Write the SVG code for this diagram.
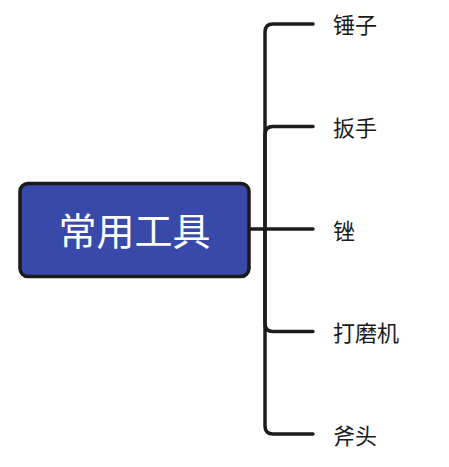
<svg xmlns="http://www.w3.org/2000/svg" width="449" height="467" viewBox="0 0 449 467">
<style>
.c{fill:none;stroke:#1c1c1c;stroke-width:3.5;stroke-linecap:round;stroke-linejoin:round}
.l{font-family:"Noto Sans CJK SC",sans-serif;font-size:22px;fill:#1a1a1a;dominant-baseline:central}
.r{font-family:"Noto Sans CJK SC",sans-serif;font-size:38px;fill:#ffffff;dominant-baseline:central;text-anchor:middle}
</style>
<rect width="449" height="467" fill="#ffffff"/>
<g id="connectors">
<path class="c" d="M249,229 H313"/>
<path class="c" d="M265,229 V32 Q265,24 273,24 H313"/>
<path class="c" d="M265,229 V134.5 Q265,126.5 273,126.5 H313"/>
<path class="c" d="M265,229 V323.5 Q265,331.5 273,331.5 H313"/>
<path class="c" d="M265,229 V426 Q265,434 273,434 H313"/>
</g>
<g id="root">
<rect x="20" y="183.5" width="229" height="93" rx="8" fill="#3949a9" stroke="#1a1a1a" stroke-width="3.5"/>
<text class="r" x="134.5" y="228">常用工具</text>
</g>
<g id="n1"><text class="l" x="333" y="23">锤子</text></g>
<g id="n2"><text class="l" x="333" y="126">扳手</text></g>
<g id="n3"><text class="l" x="333" y="228.5">锉</text></g>
<g id="n4"><text class="l" x="333" y="331">打磨机</text></g>
<g id="n5"><text class="l" x="333" y="433.5">斧头</text></g>
</svg>
